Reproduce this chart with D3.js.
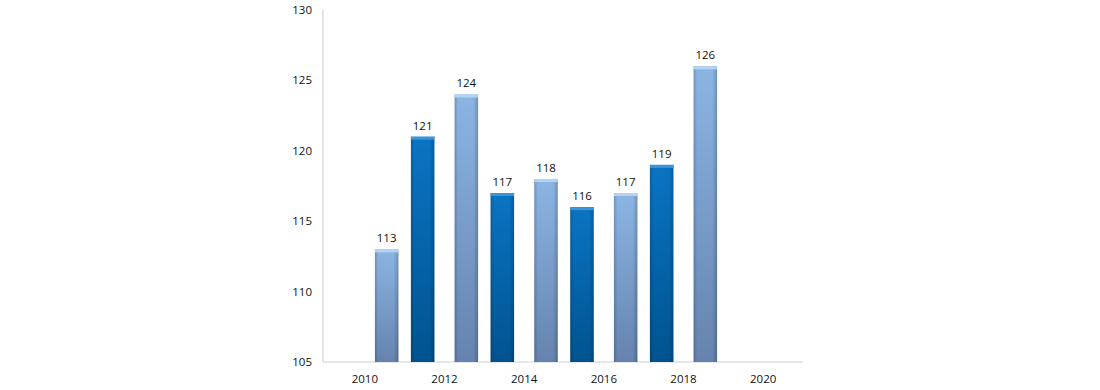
<!DOCTYPE html>
<html>
<head>
<meta charset="utf-8">
<script src="https://cdn.jsdelivr.net/npm/d3@7"></script>
<style>
  body { margin: 0; background: #fff; }
  text { font-family: "Open Sans", "DejaVu Sans", sans-serif; font-size: 11.5px; fill: #111; }
</style>
</head>
<body>
<script>
// categories (pairs of years) and the two series
var categories = [2011, 2013, 2015, 2017, 2019];
var seriesLight = [113, 124, 118, 117, 126];
var seriesDark  = [121, 117, 116, 119, null];
var xTicks = [2010, 2012, 2014, 2016, 2018, 2020];
var yTicks = [105, 110, 115, 120, 125, 130];

var WIDTH = 1100, HEIGHT = 390;
// plot area edges (note: "top" is reserved on window, so use plot* names)
var plotLeft = 323, plotRight = 803, plotTop = 10, plotBottom = 362;

var svg = d3.select('body').append('svg')
  .attr('width', WIDTH)
  .attr('height', HEIGHT);

var x = d3.scaleLinear().domain([2009, 2021]).range([plotLeft + 2, plotRight]);
var y = d3.scaleLinear().domain([105, 130]).range([plotBottom, plotTop]);
var sub = d3.scaleBand().domain(['light', 'dark']).range([-29.75, 29.75]).paddingInner(0.347);

var defs = svg.append('defs');
function vgrad(id, c1, c2) {
  var g = defs.append('linearGradient').attr('id', id)
    .attr('x1', 0).attr('y1', 0).attr('x2', 0).attr('y2', 1);
  g.append('stop').attr('offset', '0%').attr('stop-color', c1);
  g.append('stop').attr('offset', '100%').attr('stop-color', c2);
}
vgrad('gLight', '#8cb5e4', '#6583ae');
vgrad('gDark', '#0a74c4', '#005390');
var sh = defs.append('linearGradient').attr('id', 'gShade')
  .attr('x1', 0).attr('y1', 0).attr('x2', 1).attr('y2', 0);
sh.append('stop').attr('offset', '0%').attr('stop-color', '#000').attr('stop-opacity', 0.18);
sh.append('stop').attr('offset', '15%').attr('stop-color', '#000').attr('stop-opacity', 0);
sh.append('stop').attr('offset', '80%').attr('stop-color', '#000').attr('stop-opacity', 0);
sh.append('stop').attr('offset', '100%').attr('stop-color', '#000').attr('stop-opacity', 0.2);

// axes
svg.append('line').attr('x1', plotLeft).attr('x2', plotLeft).attr('y1', plotTop).attr('y2', plotBottom)
  .attr('stroke', '#c8c8c8');
svg.append('line').attr('x1', plotLeft).attr('x2', plotRight).attr('y1', plotBottom).attr('y2', plotBottom)
  .attr('stroke', '#d0d0d0');

svg.selectAll('.ylab').data(yTicks).enter().append('text')
  .attr('class', 'ylab')
  .attr('x', plotLeft - 11)
  .attr('y', function(d){ return y(d); })
  .attr('dy', '0.35em')
  .attr('text-anchor', 'end')
  .text(function(d){ return d; });

svg.selectAll('.xlab').data(xTicks).enter().append('text')
  .attr('class', 'xlab')
  .attr('x', function(d){ return x(d); })
  .attr('y', 383)
  .attr('text-anchor', 'middle')
  .text(function(d){ return d; });

// flatten to bars
var bars = [];
categories.forEach(function(c, i){
  bars.push({cat: c, s: 'light', v: seriesLight[i]});
  if (seriesDark[i] != null) bars.push({cat: c, s: 'dark', v: seriesDark[i]});
});

var bw = sub.bandwidth();
var g = svg.selectAll('.bar').data(bars).enter().append('g').attr('class', 'bar');

function bx(d){ return x(d.cat) + sub(d.s); }

g.append('rect')
  .attr('x', bx)
  .attr('y', function(d){ return y(d.v); })
  .attr('width', bw)
  .attr('height', function(d){ return plotBottom - y(d.v); })
  .attr('fill', function(d){ return d.s === 'light' ? 'url(#gLight)' : 'url(#gDark)'; });

g.append('rect')
  .attr('x', bx)
  .attr('y', function(d){ return y(d.v); })
  .attr('width', bw)
  .attr('height', function(d){ return plotBottom - y(d.v); })
  .attr('fill', 'url(#gShade)');

// top cap highlight
g.append('rect')
  .attr('x', bx)
  .attr('y', function(d){ return y(d.v); })
  .attr('width', bw)
  .attr('height', 3)
  .attr('fill', function(d){ return d.s === 'light' ? '#b3d3f3' : '#3d95d8'; });

g.append('text')
  .attr('x', function(d){ return bx(d) + bw / 2; })
  .attr('y', function(d){ return y(d.v) - 7; })
  .attr('text-anchor', 'middle')
  .text(function(d){ return d.v; });
</script>
</body>
</html>
